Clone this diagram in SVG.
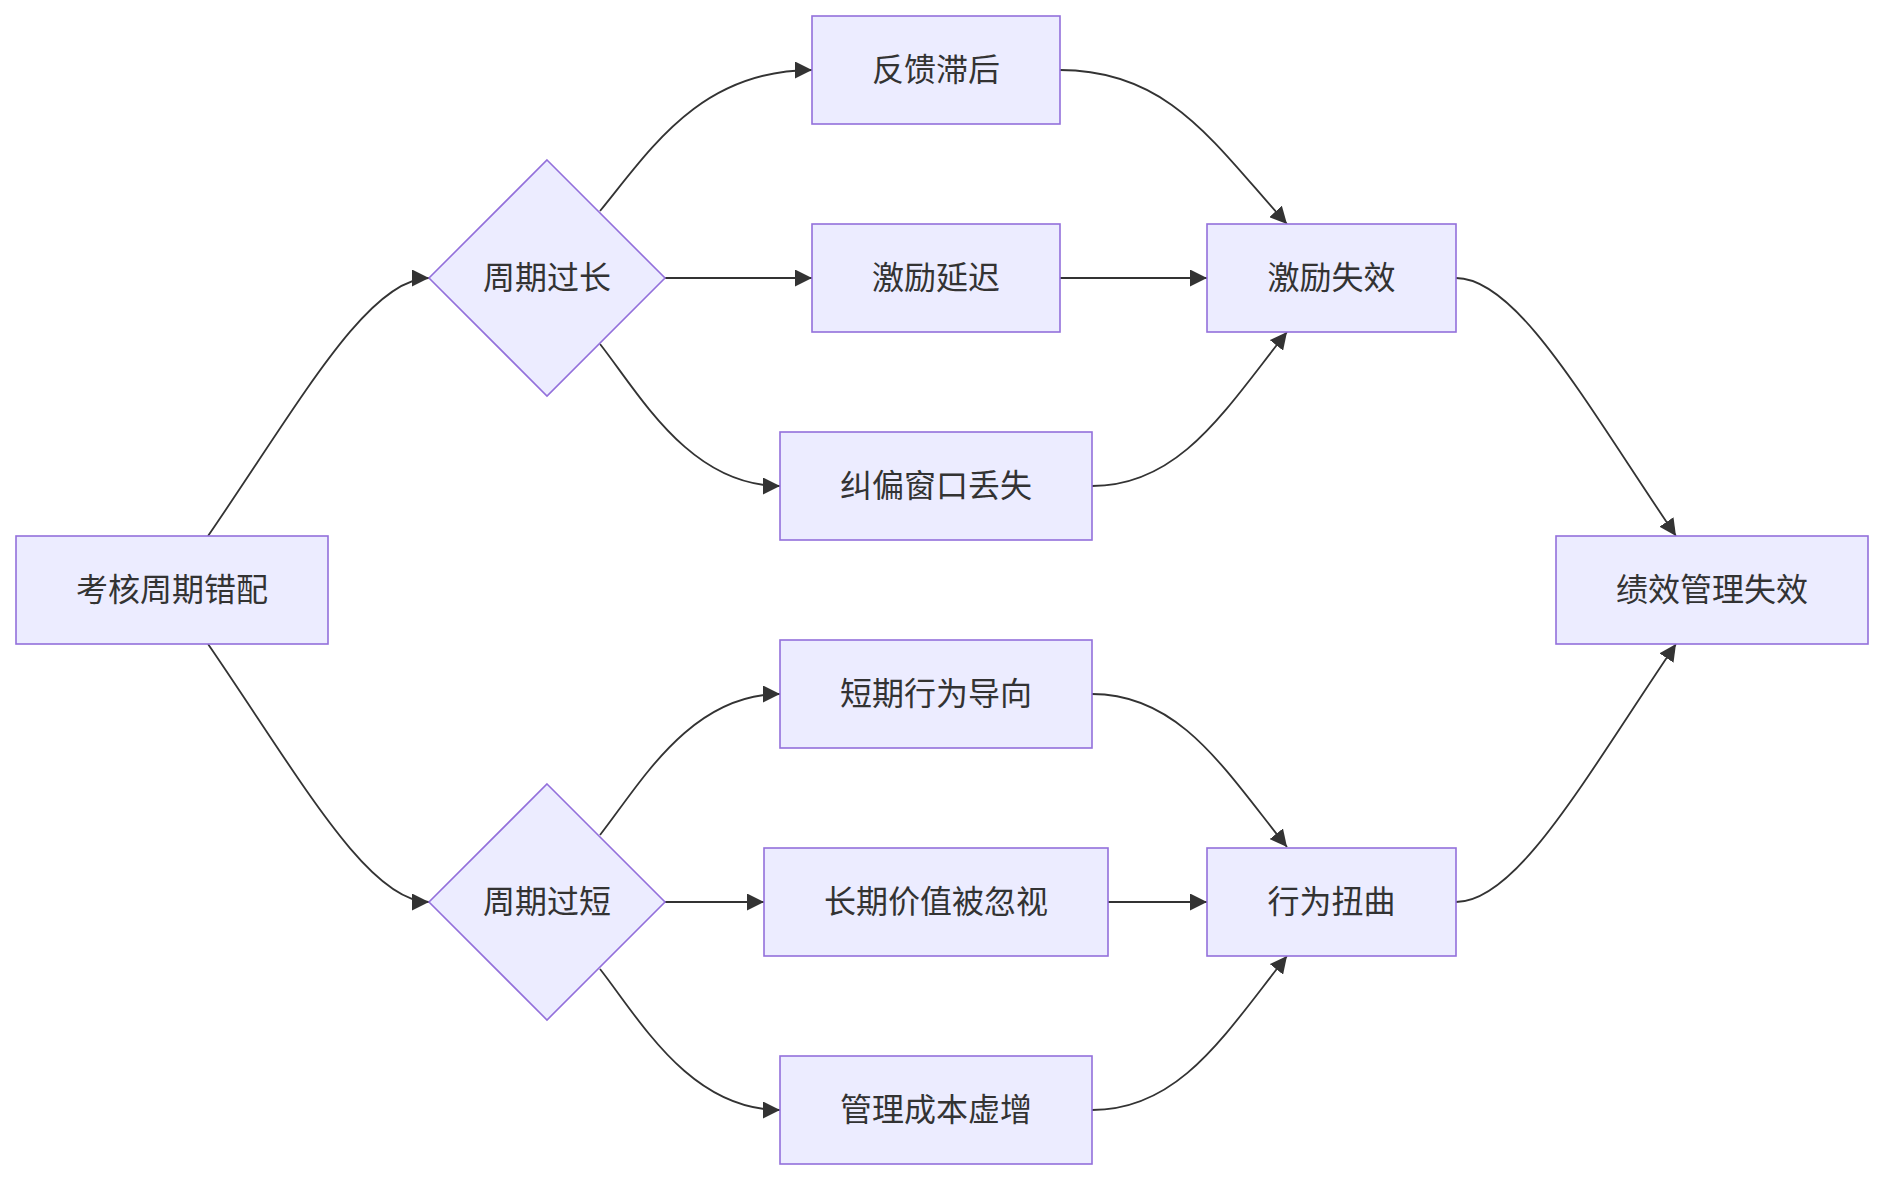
<svg xmlns="http://www.w3.org/2000/svg" width="1884" height="1180" viewBox="0 0 1884 1180">
<style>
.node rect, .node polygon { fill: #ECECFF; stroke: #9370DB; stroke-width: 1.6; }
.node text { font-family: "Noto Sans CJK SC", "Noto Sans", "Liberation Sans", sans-serif; font-size: 32px; fill: #333333; text-anchor: middle; dominant-baseline: central; }
.edges path { fill: none; stroke: #333333; stroke-width: 1.8; marker-end: url(#arrow); }
</style>
<defs>
<marker id="arrow" viewBox="0 0 10 10" refX="10" refY="5" markerWidth="17" markerHeight="17" markerUnits="userSpaceOnUse" orient="auto">
<path d="M0,0 L10,5 L0,10 z" fill="#333333"/>
</marker>
</defs>
<rect width="1884" height="1180" fill="#ffffff"/>
<g class="edges">
<path d="M208,536 C300,402 368,278 429,278"/>
<path d="M208,644 C300,778 368,902 429,902"/>
<path d="M600,211 C650,150 700,70 812,70"/>
<path d="M665,278 L812,278"/>
<path d="M600,344 C640,395 690,486 780,486"/>
<path d="M600,835 C640,784 690,694 780,694"/>
<path d="M665,902 L764,902"/>
<path d="M600,969 C640,1020 690,1110 780,1110"/>
<path d="M1060,70 C1170,70 1215,145 1287,224"/>
<path d="M1060,278 L1207,278"/>
<path d="M1092,486 C1180,486 1225,410 1287,332"/>
<path d="M1092,694 C1180,694 1225,770 1287,847"/>
<path d="M1108,902 L1207,902"/>
<path d="M1092,1110 C1180,1110 1225,1034 1287,956"/>
<path d="M1456,278 C1517,278 1585,402 1676,536"/>
<path d="M1456,902 C1517,902 1585,778 1676,644"/>
</g>
<g class="node" id="n-kaohe"><rect x="16" y="536" width="312" height="108"/><text x="172" y="587">考核周期错配</text></g>
<g class="node" id="n-guochang"><polygon points="547,160 665,278 547,396 429,278"/><text x="547" y="275">周期过长</text></g>
<g class="node" id="n-guoduan"><polygon points="547,784 665,902 547,1020 429,902"/><text x="547" y="899">周期过短</text></g>
<g class="node" id="n-fankui"><rect x="812" y="16" width="248" height="108"/><text x="936" y="67">反馈滞后</text></g>
<g class="node" id="n-jiliyanchi"><rect x="812" y="224" width="248" height="108"/><text x="936" y="275">激励延迟</text></g>
<g class="node" id="n-jiupian"><rect x="780" y="432" width="312" height="108"/><text x="936" y="483">纠偏窗口丢失</text></g>
<g class="node" id="n-duanqi"><rect x="780" y="640" width="312" height="108"/><text x="936" y="691">短期行为导向</text></g>
<g class="node" id="n-changqi"><rect x="764" y="848" width="344" height="108"/><text x="936" y="899">长期价值被忽视</text></g>
<g class="node" id="n-guanli"><rect x="780" y="1056" width="312" height="108"/><text x="936" y="1107">管理成本虚增</text></g>
<g class="node" id="n-jilishixiao"><rect x="1207" y="224" width="249" height="108"/><text x="1331.5" y="275">激励失效</text></g>
<g class="node" id="n-xingwei"><rect x="1207" y="848" width="249" height="108"/><text x="1331.5" y="899">行为扭曲</text></g>
<g class="node" id="n-jixiao"><rect x="1556" y="536" width="312" height="108"/><text x="1712" y="587">绩效管理失效</text></g>
</svg>
